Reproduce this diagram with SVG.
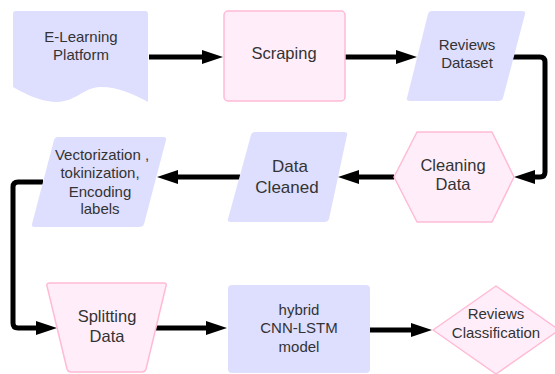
<svg xmlns="http://www.w3.org/2000/svg" width="555" height="374" viewBox="0 0 555 374">
<style>
.blue{fill:#dedefe;stroke:none}
.pink{fill:#ffeefa;stroke:#ffbbd4;stroke-width:1.5;stroke-linejoin:round}
.t{font-family:"Liberation Sans",Arial,sans-serif;font-size:15px;fill:#333;text-anchor:middle}
.mid{font-size:16.5px}
.big{font-size:17px}
.c{fill:none;stroke:#000;stroke-width:5;stroke-linejoin:round}
</style>
<defs>
<marker id="ah" markerUnits="userSpaceOnUse" markerWidth="22" markerHeight="14" refX="6" refY="7" orient="auto" overflow="visible">
<path d="M0,0 L21,7 L0,14 Z" fill="#000"/>
</marker>
</defs>
<g id="connectors">
<path class="c" marker-end="url(#ah)" d="M149,57 H208"/>
<path class="c" marker-end="url(#ah)" d="M345,57 H402"/>
<path class="c" marker-end="url(#ah)" d="M513,57 H540 Q545,57 545,62 V172 Q545,177 540,177 H529"/>
<path class="c" marker-end="url(#ah)" d="M394,177 H353"/>
<path class="c" marker-end="url(#ah)" d="M240,177 H172"/>
<path class="c" marker-end="url(#ah)" d="M43,182 H18 Q13,182 13,187 V323 Q13,328 18,328 H42"/>
<path class="c" marker-end="url(#ah)" d="M156,328 H212"/>
<path class="c" marker-end="url(#ah)" d="M370,330 H417"/>
</g>
<g id="elearning">
<path class="blue" d="M16,11 H145 Q148,11 148,14 V102 C135,95 120,87 100,87 C85,87 75,102 57,102 C45,102 30,97 13,87 V14 Q13,11 16,11 Z"/>
<text class="t" x="81" y="42">E-Learning</text>
<text class="t" x="81" y="60">Platform</text>
</g>
<g id="scraping">
<rect class="pink" x="224" y="11" width="121" height="90" rx="4"/>
<text class="t mid" x="284" y="59">Scraping</text>
</g>
<g id="reviews-dataset">
<path class="blue" d="M432,11 H522 Q526,11 525,14 L503,98 Q502,101 498,101 H410 Q406,101 407,98 L428,14 Q429,11 432,11 Z"/>
<text class="t" x="467" y="50">Reviews</text>
<text class="t" x="467" y="68">Dataset</text>
</g>
<g id="cleaning-data">
<polygon class="pink" points="417,132 492,132 514,177 492,222 417,222 394,177"/>
<text class="t mid" x="453" y="171">Cleaning</text>
<text class="t mid" x="453" y="190">Data</text>
</g>
<g id="data-cleaned">
<path class="blue" d="M255,132 H344 Q348,132 347,135 L329,219 Q328,222 324,222 H231 Q227,222 228,219 L251,135 Q252,132 255,132 Z"/>
<text class="t big" x="290" y="172">Data</text>
<text class="t big" x="287" y="193">Cleaned</text>
</g>
<g id="vectorization">
<path class="blue" d="M58,137 H163 Q167,137 166,140 L144,224 Q143,227 139,227 H35 Q31,227 32,224 L54,140 Q55,137 58,137 Z"/>
<text class="t" x="102" y="160">Vectorization ,</text>
<text class="t" x="100" y="178">tokinization,</text>
<text class="t" x="100" y="197">Encoding</text>
<text class="t" x="100" y="214">labels</text>
</g>
<g id="splitting-data">
<path class="pink" d="M50,283 H164 Q167,283 166,286 L146,369 Q145,372 142,372 H71 Q68,372 67,369 L47,286 Q46,283 50,283 Z"/>
<text class="t mid" x="107" y="322">Splitting</text>
<text class="t mid" x="107" y="342">Data</text>
</g>
<g id="hybrid-model">
<rect class="blue" x="228" y="285" width="142" height="88" rx="4"/>
<text class="t" x="299" y="315">hybrid</text>
<text class="t" x="299" y="333">CNN-LSTM</text>
<text class="t" x="299" y="352">model</text>
</g>
<g id="reviews-classification">
<polygon class="pink" points="433,330 496,286 559,330 496,374"/>
<text class="t" x="496" y="319">Reviews</text>
<text class="t" x="496" y="338">Classification</text>
</g>
</svg>
